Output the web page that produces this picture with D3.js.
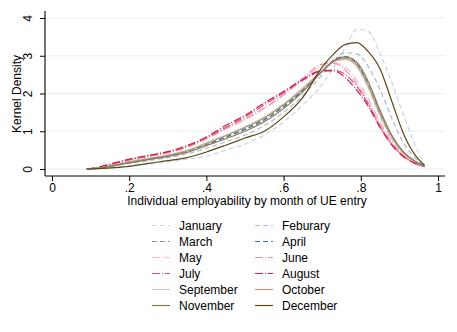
<!DOCTYPE html>
<html>
<head>
<meta charset="utf-8">
<script src="https://cdn.jsdelivr.net/npm/d3@7"></script>
<style>
  body { margin: 0; background: #fff; }
  svg { display: block; font-family: "Liberation Sans", Arial, sans-serif; }
</style>
</head>
<body>
<script>
var xs = [0.09, 0.12, 0.15, 0.2, 0.25, 0.3, 0.35, 0.4, 0.45, 0.5, 0.55, 0.6, 0.65, 0.7, 0.73, 0.76, 0.79, 0.82, 0.85, 0.88, 0.91, 0.94, 0.965];

var months = ["January", "Feburary", "March", "April", "May", "June", "July", "August", "September", "October", "November", "December"];

var january   = [0, 0.01, 0.03, 0.08, 0.13, 0.19, 0.26, 0.34, 0.5, 0.66, 0.9, 1.25, 1.7, 2.25, 2.7, 3.22, 3.7, 3.64, 3.05, 2.3, 1.45, 0.65, 0.12];
var feburary  = [0, 0.02, 0.06, 0.15, 0.22, 0.3, 0.4, 0.55, 0.72, 0.9, 1.15, 1.5, 1.95, 2.5, 2.88, 3.08, 3.05, 2.7, 2.1, 1.35, 0.7, 0.3, 0.08];
var march     = [0, 0.03, 0.09, 0.2, 0.28, 0.36, 0.48, 0.68, 0.86, 1.08, 1.34, 1.68, 2.1, 2.62, 2.88, 2.96, 2.75, 2.15, 1.4, 0.82, 0.42, 0.2, 0.07];
var april     = [0, 0.03, 0.08, 0.19, 0.27, 0.35, 0.47, 0.65, 0.84, 1.05, 1.3, 1.65, 2.08, 2.6, 2.88, 2.98, 2.8, 2.22, 1.48, 0.86, 0.44, 0.2, 0.07];
var may       = [0, 0.04, 0.1, 0.23, 0.33, 0.42, 0.57, 0.8, 1.05, 1.3, 1.6, 1.95, 2.35, 2.75, 2.82, 2.7, 2.35, 1.85, 1.25, 0.75, 0.38, 0.17, 0.06];
var june      = [0, 0.04, 0.11, 0.24, 0.34, 0.43, 0.58, 0.8, 1.08, 1.33, 1.62, 1.98, 2.4, 2.78, 2.8, 2.62, 2.25, 1.75, 1.18, 0.7, 0.36, 0.16, 0.06];
var july      = [0, 0.04, 0.12, 0.25, 0.35, 0.45, 0.6, 0.83, 1.1, 1.38, 1.7, 2.02, 2.35, 2.6, 2.62, 2.5, 2.18, 1.7, 1.12, 0.66, 0.34, 0.15, 0.06];
var august    = [0, 0.05, 0.13, 0.26, 0.36, 0.46, 0.62, 0.85, 1.15, 1.42, 1.75, 2.05, 2.38, 2.6, 2.6, 2.42, 2.08, 1.65, 1.1, 0.64, 0.33, 0.15, 0.06];
var september = [0, 0.03, 0.08, 0.19, 0.28, 0.37, 0.5, 0.7, 0.9, 1.12, 1.38, 1.72, 2.15, 2.62, 2.85, 2.9, 2.7, 2.15, 1.42, 0.83, 0.42, 0.2, 0.07];
var october   = [0, 0.03, 0.08, 0.18, 0.27, 0.36, 0.48, 0.67, 0.88, 1.1, 1.35, 1.7, 2.12, 2.6, 2.86, 2.93, 2.75, 2.2, 1.48, 0.87, 0.44, 0.2, 0.07];
var november  = [0, 0.02, 0.07, 0.16, 0.25, 0.33, 0.44, 0.62, 0.8, 1.0, 1.25, 1.6, 2.05, 2.58, 2.86, 2.97, 2.82, 2.3, 1.55, 0.9, 0.46, 0.21, 0.08];
var december  = [0, 0.01, 0.03, 0.07, 0.15, 0.22, 0.3, 0.45, 0.63, 0.82, 1.0, 1.38, 1.9, 2.7, 3.05, 3.3, 3.35, 3.1, 2.65, 1.8, 0.95, 0.38, 0.1];

var xTicks = [0, 0.2, 0.4, 0.6, 0.8, 1];
var xTickLabels = ["0", ".2", ".4", ".6", ".8", "1"];
var yTicks = [0, 1, 2, 3, 4];

var series = [january, feburary, march, april, may, june, july, august, september, october, november, december];
var colors = ["#c9d5e4", "#a6bbd2", "#7d99b7", "#46698f",
              "#f5bccb", "#ec93ab", "#df4d77", "#cf1a4b",
              "#d3c8b9", "#ab9b80", "#8b7955", "#5d4616"];
var dashes = ["5,3", "5,3", "5,3", "5,3",
              "8,2,1,2", "8,2,1,2", "8,2,1,2", "8,2,1,2",
              null, null, null, null];

var width = 457, height = 332;
var svg = d3.select("body").append("svg")
    .attr("width", width)
    .attr("height", height);

svg.append("rect").attr("width", width).attr("height", height).attr("fill", "#fff");

var x = d3.scaleLinear().domain([0, 1]).range([52, 438]);
var y = d3.scaleLinear().domain([0, 4]).range([169, 18]);

var plotLeft = 45, plotRight = 445, plotTop = 11, plotBottom = 176;

// gridlines
svg.append("g").selectAll("line")
    .data(yTicks)
  .enter().append("line")
    .attr("x1", plotLeft).attr("x2", plotRight)
    .attr("y1", function(d) { return y(d); })
    .attr("y2", function(d) { return y(d); })
    .attr("stroke", "#e8efef")
    .attr("stroke-width", 1);

// curves
var line = d3.line()
    .x(function(d) { return x(d[0]); })
    .y(function(d) { return y(d[1]); })
    .curve(d3.curveMonotoneX);

svg.append("g").selectAll("path")
    .data(series)
  .enter().append("path")
    .attr("d", function(s) { return line(xs.map(function(v, i) { return [v, s[i]]; })); })
    .attr("fill", "none")
    .attr("stroke", function(d, i) { return colors[i]; })
    .attr("stroke-width", 1.2)
    .attr("stroke-dasharray", function(d, i) { return dashes[i]; });

// axes
var yAxis = d3.axisLeft(y).tickValues(yTicks).tickFormat(d3.format("d")).tickSize(5).tickPadding(6);
var gy = svg.append("g").attr("transform", "translate(" + plotLeft + ",0)").call(yAxis);
gy.select(".domain").attr("d", "M0," + plotTop + "V" + plotBottom);
gy.selectAll(".tick text")
    .attr("transform", "translate(-17,0) rotate(-90)")
    .attr("x", 0).attr("dy", "0.35em")
    .attr("text-anchor", "middle");

var xAxis = d3.axisBottom(x).tickValues(xTicks)
    .tickFormat(function(d, i) { return xTickLabels[i]; })
    .tickSize(5).tickPadding(2);
var gx = svg.append("g").attr("transform", "translate(0," + plotBottom + ")").call(xAxis);
gx.select(".domain").attr("d", "M" + plotLeft + ",0H" + plotRight);

svg.selectAll(".domain").attr("stroke", "#000").attr("stroke-width", 1.1);
svg.selectAll(".tick line").attr("stroke", "#000");
svg.selectAll(".tick text").attr("font-size", 12).attr("fill", "#000")
    .attr("font-family", "Liberation Sans, Arial, sans-serif");

// axis titles
svg.append("text")
    .attr("x", 247).attr("y", 205)
    .attr("text-anchor", "middle")
    .attr("font-size", 12)
    .text("Individual employability by month of UE entry");

svg.append("text")
    .attr("transform", "translate(21,94) rotate(-90)")
    .attr("text-anchor", "middle")
    .attr("font-size", 12)
    .text("Kernel Density");

// legend: two columns, six rows
var legend = svg.append("g").selectAll("g")
    .data(months)
  .enter().append("g")
    .attr("transform", function(d, i) {
      return "translate(" + (i % 2 === 0 ? 152 : 255) + "," + (225.5 + Math.floor(i / 2) * 16) + ")";
    });

legend.append("line")
    .attr("x1", 0).attr("x2", 18)
    .attr("stroke", function(d, i) { return colors[i]; })
    .attr("stroke-width", 1.2)
    .attr("stroke-dasharray", function(d, i) { return dashes[i]; });

legend.append("text")
    .attr("x", 27).attr("dy", "0.35em")
    .attr("font-size", 12)
    .text(function(d) { return d; });
</script>
</body>
</html>
